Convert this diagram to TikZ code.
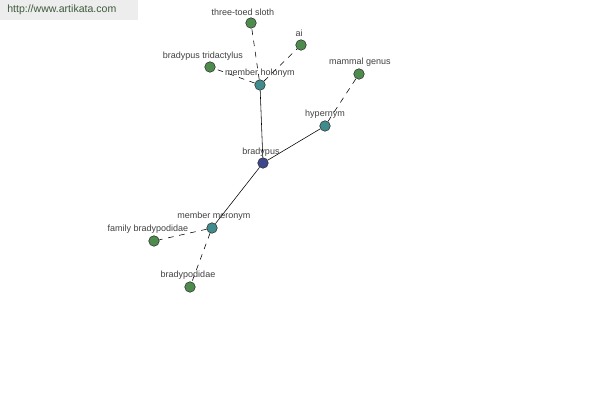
\documentclass[tikz,border=0pt]{standalone}
\usepackage{fontspec}
\setmainfont{Liberation Sans}
\definecolor{wordgreen}{RGB}{78,140,78}
\definecolor{relteal}{RGB}{64,140,140}
\definecolor{headblue}{RGB}{60,72,140}
\definecolor{sitetext}{RGB}{60,90,60}
\tikzset{
  dot/.style={circle,draw=black!80,line width=0.4pt,inner sep=0pt,minimum size=7.5pt},
  word/.style={dot,fill=wordgreen},
  rel/.style={dot,fill=relteal},
  head/.style={dot,fill=headblue},
  lbl/.style={font=\fontsize{6.4}{7}\selectfont,text=black!75,inner sep=0pt},
  link/.style={line width=0.4pt},
  dlink/.style={line width=0.4pt,dashed,dash pattern=on 4pt off 4pt}
}
\begin{document}
\begin{tikzpicture}[x=0.025cm,y=-0.025cm]
  \useasboundingbox (0,0) rectangle (600,400);
  % watermark
  \fill[black!7] (0,0) rectangle (138,20);
  \node[anchor=west,font=\fontsize{7.5}{9}\selectfont,text=sitetext,inner sep=0pt] (site) at (7,10) {http://www.artikata.com};
  % nodes
  \node[head] (brad) at (263,163) {};
  \node[rel] (holo) at (260,85) {};
  \node[rel] (hyper) at (325,126) {};
  \node[rel] (mero) at (212,228) {};
  \node[word] (sloth) at (251,23) {};
  \node[word] (ai) at (301,45) {};
  \node[word] (tridac) at (210,67) {};
  \node[word] (genus) at (359,74) {};
  \node[word] (family) at (154,241) {};
  \node[word] (podid) at (190,287) {};
  % edges
  \draw[link] (brad) -- (holo);
  \draw[link] (brad) -- (hyper);
  \draw[link] (brad) -- (mero);
  \draw[dlink] (holo) -- (sloth);
  \draw[dlink] (holo) -- (ai);
  \draw[dlink] (holo) -- (tridac);
  \draw[dlink] (hyper) -- (genus);
  \draw[dlink] (mero) -- (family);
  \draw[dlink] (mero) -- (podid);
  % labels
  \node[lbl] (tsl) at (243,12) {three-toed sloth};
  \node[lbl] (ail) at (299,33) {ai};
  \node[lbl] (trl) at (203,56) {bradypus tridactylus};
  \node[lbl] (hol) at (260,73) {member holonym};
  \node[lbl] (gel) at (360,62) {mammal genus};
  \node[lbl] (hyl) at (325,114) {hypernym};
  \node[lbl] (brl) at (261,152) {bradypus};
  \node[lbl] (mel) at (214,216) {member meronym};
  \node[lbl] (fal) at (148,229) {family bradypodidae};
  \node[lbl] (pol) at (188,275) {bradypodidae};
\end{tikzpicture}
\end{document}
